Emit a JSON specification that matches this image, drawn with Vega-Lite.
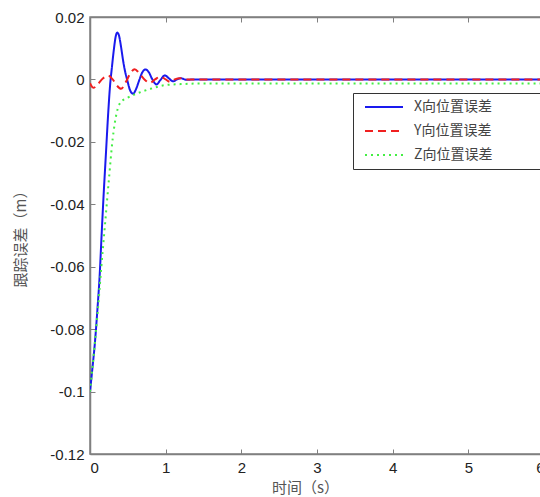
{
  "$schema": "https://vega.github.io/schema/vega-lite/v6.json",
  "autosize": "none",
  "padding": {"left": 90, "right": -4, "top": 17, "bottom": 43},
  "width": 454,
  "height": 437,
  "background": "white",
  "config": {
    "view": {"stroke": "#808080", "strokeWidth": 1.5},
    "axis": {
      "grid": false,
      "domainColor": "#808080",
      "domainWidth": 1.5,
      "tickColor": "#808080",
      "tickSize": -5,
      "labelFont": "Liberation Sans",
      "labelFontSize": 15,
      "labelColor": "#222",
      "titleFont": "Noto Sans CJK SC",
      "titleFontSize": 14,
      "titleFontWeight": "normal",
      "titleColor": "#555"
    },
    "legend": {
      "orient": "none",
      "legendX": 263,
      "legendY": 76,
      "strokeColor": "#333",
      "fillColor": "white",
      "padding": 7,
      "symbolType": "M-3.8,0H3.8",
      "symbolSize": 100,
      "symbolOffset": 17,
      "symbolStrokeWidth": 2,
      "labelFont": "Noto Sans CJK SC",
      "labelFontSize": 14,
      "labelColor": "#444",
      "labelOffset": 23,
      "rowPadding": 10,
      "title": null
    }
  },
  "data": {
    "values": [
      {"t": 0, "v": -0.1, "s": "X向位置误差"},
      {"t": 0.03, "v": -0.093, "s": "X向位置误差"},
      {"t": 0.066, "v": -0.084, "s": "X向位置误差"},
      {"t": 0.1, "v": -0.073, "s": "X向位置误差"},
      {"t": 0.125, "v": -0.064, "s": "X向位置误差"},
      {"t": 0.155, "v": -0.049, "s": "X向位置误差"},
      {"t": 0.18, "v": -0.037, "s": "X向位置误差"},
      {"t": 0.21, "v": -0.024, "s": "X向位置误差"},
      {"t": 0.24, "v": -0.011, "s": "X向位置误差"},
      {"t": 0.265, "v": -0.002, "s": "X向位置误差"},
      {"t": 0.29, "v": 0.004, "s": "X向位置误差"},
      {"t": 0.315, "v": 0.0095, "s": "X向位置误差"},
      {"t": 0.34, "v": 0.0138, "s": "X向位置误差"},
      {"t": 0.36, "v": 0.015, "s": "X向位置误差"},
      {"t": 0.38, "v": 0.0143, "s": "X向位置误差"},
      {"t": 0.41, "v": 0.0105, "s": "X向位置误差"},
      {"t": 0.435, "v": 0.0064, "s": "X向位置误差"},
      {"t": 0.46, "v": 0.003, "s": "X向位置误差"},
      {"t": 0.49, "v": 0.0, "s": "X向位置误差"},
      {"t": 0.53, "v": -0.0035, "s": "X向位置误差"},
      {"t": 0.57, "v": -0.0046, "s": "X向位置误差"},
      {"t": 0.61, "v": -0.003, "s": "X向位置误差"},
      {"t": 0.65, "v": -0.0003, "s": "X向位置误差"},
      {"t": 0.69, "v": 0.0022, "s": "X向位置误差"},
      {"t": 0.735, "v": 0.0032, "s": "X向位置误差"},
      {"t": 0.78, "v": 0.0022, "s": "X向位置误差"},
      {"t": 0.82, "v": 0.0002, "s": "X向位置误差"},
      {"t": 0.88, "v": -0.0016, "s": "X向位置误差"},
      {"t": 0.93, "v": -0.0002, "s": "X向位置误差"},
      {"t": 0.99, "v": 0.0013, "s": "X向位置误差"},
      {"t": 1.04, "v": 0.0004, "s": "X向位置误差"},
      {"t": 1.1, "v": -0.0006, "s": "X向位置误差"},
      {"t": 1.15, "v": 0.0, "s": "X向位置误差"},
      {"t": 1.2, "v": 0.0004, "s": "X向位置误差"},
      {"t": 1.27, "v": -0.0001, "s": "X向位置误差"},
      {"t": 1.4, "v": 0.0, "s": "X向位置误差"},
      {"t": 2, "v": 0.0, "s": "X向位置误差"},
      {"t": 3, "v": 0.0, "s": "X向位置误差"},
      {"t": 4, "v": 0.0, "s": "X向位置误差"},
      {"t": 5, "v": 0.0, "s": "X向位置误差"},
      {"t": 6, "v": 0.0, "s": "X向位置误差"},
      {"t": 0, "v": -0.0012, "s": "Y向位置误差"},
      {"t": 0.044, "v": -0.0027, "s": "Y向位置误差"},
      {"t": 0.1, "v": -0.0016, "s": "Y向位置误差"},
      {"t": 0.17, "v": 0.0003, "s": "Y向位置误差"},
      {"t": 0.24, "v": 0.0012, "s": "Y向位置误差"},
      {"t": 0.3, "v": 0.0, "s": "Y向位置误差"},
      {"t": 0.35, "v": -0.0018, "s": "Y向位置误差"},
      {"t": 0.41, "v": -0.003, "s": "Y向位置误差"},
      {"t": 0.47, "v": -0.001, "s": "Y向位置误差"},
      {"t": 0.53, "v": 0.0018, "s": "Y向位置误差"},
      {"t": 0.59, "v": 0.0033, "s": "Y向位置误差"},
      {"t": 0.65, "v": 0.002, "s": "Y向位置误差"},
      {"t": 0.72, "v": 0.0, "s": "Y向位置误差"},
      {"t": 0.79, "v": -0.0011, "s": "Y向位置误差"},
      {"t": 0.86, "v": 0.0, "s": "Y向位置误差"},
      {"t": 0.93, "v": 0.0009, "s": "Y向位置误差"},
      {"t": 1.0, "v": 0.0, "s": "Y向位置误差"},
      {"t": 1.06, "v": -0.0008, "s": "Y向位置误差"},
      {"t": 1.12, "v": 0.0, "s": "Y向位置误差"},
      {"t": 1.19, "v": 0.0004, "s": "Y向位置误差"},
      {"t": 1.27, "v": 0.0, "s": "Y向位置误差"},
      {"t": 1.4, "v": 0.0, "s": "Y向位置误差"},
      {"t": 2, "v": 0.0, "s": "Y向位置误差"},
      {"t": 3, "v": 0.0, "s": "Y向位置误差"},
      {"t": 4, "v": 0.0, "s": "Y向位置误差"},
      {"t": 5, "v": 0.0, "s": "Y向位置误差"},
      {"t": 6, "v": 0.0, "s": "Y向位置误差"},
      {"t": 0, "v": -0.1, "s": "Z向位置误差"},
      {"t": 0.05, "v": -0.088, "s": "Z向位置误差"},
      {"t": 0.1, "v": -0.075, "s": "Z向位置误差"},
      {"t": 0.15, "v": -0.06, "s": "Z向位置误差"},
      {"t": 0.2, "v": -0.046, "s": "Z向位置误差"},
      {"t": 0.25, "v": -0.032, "s": "Z向位置误差"},
      {"t": 0.3, "v": -0.019, "s": "Z向位置误差"},
      {"t": 0.35, "v": -0.011, "s": "Z向位置误差"},
      {"t": 0.4, "v": -0.0075, "s": "Z向位置误差"},
      {"t": 0.5, "v": -0.0058, "s": "Z向位置误差"},
      {"t": 0.6, "v": -0.0047, "s": "Z向位置误差"},
      {"t": 0.7, "v": -0.0038, "s": "Z向位置误差"},
      {"t": 0.8, "v": -0.003, "s": "Z向位置误差"},
      {"t": 0.9, "v": -0.0023, "s": "Z向位置误差"},
      {"t": 1.0, "v": -0.0018, "s": "Z向位置误差"},
      {"t": 1.2, "v": -0.0015, "s": "Z向位置误差"},
      {"t": 1.5, "v": -0.0013, "s": "Z向位置误差"},
      {"t": 2, "v": -0.0013, "s": "Z向位置误差"},
      {"t": 3, "v": -0.0013, "s": "Z向位置误差"},
      {"t": 4, "v": -0.0013, "s": "Z向位置误差"},
      {"t": 5, "v": -0.0013, "s": "Z向位置误差"},
      {"t": 6, "v": -0.0013, "s": "Z向位置误差"}
    ]
  },
  "layer": [
    {
      "mark": {"type": "line", "strokeWidth": 2, "interpolate": "monotone", "clip": true},
      "encoding": {
        "x": {
          "field": "t", "type": "quantitative",
          "scale": {"domain": [0, 6], "nice": false},
          "axis": {
            "values": [0, 1, 2, 3, 4, 5, 6],
            "labelPadding": 11,
            "title": "时间（s）",
            "titleFontSize": 15,
            "titleX": 215,
            "titleY": 33,
            "titleBaseline": "middle",
            "titleAnchor": null,
            "titleAlign": "center"
          }
        },
        "y": {
          "field": "v", "type": "quantitative",
          "scale": {"domain": [-0.12, 0.02], "nice": false, "zero": false},
          "axis": {
            "values": [-0.12, -0.1, -0.08, -0.06, -0.04, -0.02, 0, 0.02],
            "labelExpr": "toString(datum.value)",
            "labelPadding": 11,
            "title": "跟踪误差（m）",
            "titleFontSize": 15,
            "titleX": -70,
            "titleY": 218,
            "titleAngle": -90,
            "titleAlign": "center",
            "titleBaseline": "middle"
          }
        },
        "color": {
          "field": "s", "type": "nominal",
          "scale": {
            "domain": ["X向位置误差", "Y向位置误差", "Z向位置误差"],
            "range": ["#1a1aee", "#f02020", "#44ee44"]
          },
          "legend": {"labelExpr": "datum.label + '\u2800\u2800\u2800\u2800'"}
        },
        "strokeDash": {
          "field": "s", "type": "nominal",
          "scale": {
            "domain": ["X向位置误差", "Y向位置误差", "Z向位置误差"],
            "range": [[1, 0], [8, 5], [2, 4]]
          },
          "legend": {"labelExpr": "datum.label + '\u2800\u2800\u2800\u2800'"}
        }
      }
    },
    {
      "mark": {"type": "rule", "opacity": 0},
      "encoding": {
        "x": {
          "field": "t", "type": "quantitative",
          "axis": {"orient": "top", "values": [0, 1, 2, 3, 4, 5, 6], "labels": false, "title": null}
        }
      }
    }
  ],
  "resolve": {"axis": {"x": "independent"}}
}
